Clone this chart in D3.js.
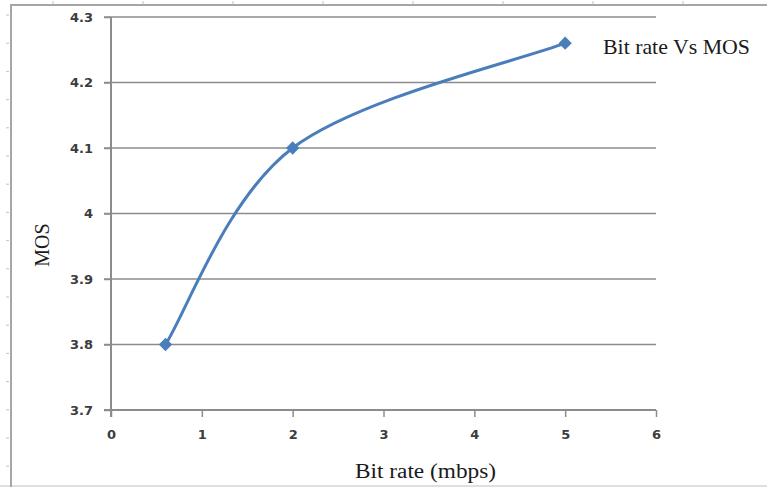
<!DOCTYPE html>
<html>
<head>
<meta charset="utf-8">
<script src="https://cdn.jsdelivr.net/npm/d3@7"></script>
<style>
  html, body { margin: 0; padding: 0; background: #fff; }
  svg { display: block; }
</style>
</head>
<body>
<svg id="chart" width="767" height="487"></svg>
<script>
'use strict';

// chart values
var bitRates = [0.6, 2, 5],
    mosValues = [3.8, 4.1, 4.26],
    xTicks = [0, 1, 2, 3, 4, 5, 6],
    yTicks = [3.7, 3.8, 3.9, 4.0, 4.1, 4.2, 4.3],
    seriesName = 'Bit rate Vs MOS',
    xTitle = 'Bit rate (mbps)',
    yTitle = 'MOS';

var W = 767, H = 487,
    plot = {left: 111, right: 656, top: 17, bottom: 410},
    lineColor = '#4a7ebb',
    axisColor = '#8c8c8c';

var svg = d3.select('#chart');

var x = d3.scaleLinear().domain([0, 6]).range([plot.left, plot.right]),
    y = d3.scaleLinear().domain([3.7, 4.3]).range([plot.bottom, plot.top]);

// Excel-style smoothed line: bezier segments, 1/6 tangents,
// end points use themselves as the phantom neighbour
function smoothPath(p) {
    var ctx = d3.path(), n = p.length;
    ctx.moveTo(p[0][0], p[0][1]);
    for(var i = 0; i < n - 1; i++) {
        var a = p[Math.max(i - 1, 0)],
            b = p[i],
            c = p[i + 1],
            d = p[Math.min(i + 2, n - 1)];
        ctx.bezierCurveTo(
            b[0] + (c[0] - a[0]) / 6, b[1] + (c[1] - a[1]) / 6,
            c[0] - (d[0] - b[0]) / 6, c[1] - (d[1] - b[1]) / 6,
            c[0], c[1]);
    }
    return ctx.toString();
}

// page frame (ruler-like border around the pasted chart)
var frame = svg.append('g').attr('class', 'frame');
frame.append('line')
    .attr('x1', 0).attr('x2', W).attr('y1', 486).attr('y2', 486)
    .attr('stroke', '#d4d4d4').attr('stroke-width', 1.5);
frame.append('line')
    .attr('x1', 11).attr('x2', W).attr('y1', 5).attr('y2', 5)
    .attr('stroke', '#a6a6a6').attr('stroke-width', 2);
frame.append('line')
    .attr('x1', 11).attr('x2', 11).attr('y1', 4).attr('y2', H)
    .attr('stroke', '#a6a6a6').attr('stroke-width', 2);
frame.selectAll('line.rt')
    .data(d3.range(53, W, 90))
    .enter().append('line')
        .attr('class', 'rt')
        .attr('x1', function(d) { return d; }).attr('x2', function(d) { return d; })
        .attr('y1', 1).attr('y2', 4)
        .attr('stroke', '#b8c4d6').attr('stroke-width', 1);
frame.selectAll('line.lt')
    .data(d3.range(15, H, 28.2))
    .enter().append('line')
        .attr('class', 'lt')
        .attr('x1', 6).attr('x2', 9)
        .attr('y1', function(d) { return d; }).attr('y2', function(d) { return d; })
        .attr('stroke', '#b8c4d6').attr('stroke-width', 1);

// horizontal gridlines
svg.append('g').attr('class', 'grid')
    .selectAll('line')
    .data(yTicks.slice(1))
    .enter().append('line')
        .attr('x1', plot.left - 7).attr('x2', plot.right)
        .attr('y1', function(d) { return y(d); })
        .attr('y2', function(d) { return y(d); })
        .attr('stroke', axisColor).attr('stroke-width', 1.5);

// y axis
var yAxis = svg.append('g')
    .attr('class', 'y axis')
    .attr('transform', 'translate(' + plot.left + ',0)')
    .call(d3.axisLeft(y).tickValues(yTicks).tickSize(7).tickPadding(11)
        .tickFormat(function(d) { return d3.format('.1f')(d).replace(/\.0$/, ''); }));

// x axis
var xAxis = svg.append('g')
    .attr('class', 'x axis')
    .attr('transform', 'translate(0,' + plot.bottom + ')')
    .call(d3.axisBottom(x).tickValues(xTicks).tickSize(7).tickPadding(13)
        .tickFormat(d3.format('d')));

[xAxis, yAxis].forEach(function(ax) {
    ax.select('.domain').remove();
    ax.selectAll('.tick line')
        .attr('stroke', axisColor).attr('stroke-width', 1.5);
    ax.selectAll('.tick text')
        .attr('fill', '#3c3c3c')
        .style('font-family', '"DejaVu Sans", sans-serif')
        .style('font-size', '13px')
        .style('font-weight', 'bold');
});

// axis lines
svg.append('line')
    .attr('x1', plot.left).attr('x2', plot.left)
    .attr('y1', plot.top).attr('y2', plot.bottom + 7)
    .attr('stroke', axisColor).attr('stroke-width', 2);
svg.append('line')
    .attr('x1', plot.left - 7).attr('x2', plot.right)
    .attr('y1', plot.bottom).attr('y2', plot.bottom)
    .attr('stroke', axisColor).attr('stroke-width', 2);

// series: smoothed line plus diamond markers
var pts = bitRates.map(function(b, i) { return [x(b), y(mosValues[i])]; });

svg.append('path')
    .attr('class', 'js-line')
    .attr('d', smoothPath(pts))
    .attr('fill', 'none')
    .attr('stroke', lineColor)
    .attr('stroke-width', 3);

svg.append('g').attr('class', 'points')
    .selectAll('path.point')
    .data(pts)
    .enter().append('path')
        .attr('class', 'point')
        .attr('d', d3.symbol().type(d3.symbolSquare).size(88))
        .attr('transform', function(d) {
            return 'translate(' + d[0] + ',' + d[1] + ') rotate(45)';
        })
        .attr('fill', lineColor);

// titles and series label
var serif = '"Liberation Serif", "Times New Roman", serif';

svg.append('text')
    .attr('x', 603).attr('y', 54)
    .attr('textLength', 147).attr('lengthAdjust', 'spacingAndGlyphs')
    .style('font-family', serif).style('font-size', '21px')
    .attr('fill', '#1a1a1a')
    .text(seriesName);

svg.append('text')
    .attr('x', 355).attr('y', 478)
    .attr('textLength', 141).attr('lengthAdjust', 'spacingAndGlyphs')
    .style('font-family', serif).style('font-size', '20px')
    .attr('fill', '#1a1a1a')
    .text(xTitle);

svg.append('text')
    .attr('transform', 'translate(49,245) rotate(-90)')
    .attr('text-anchor', 'middle')
    .style('font-family', serif).style('font-size', '20px')
    .attr('fill', '#1a1a1a')
    .text(yTitle);
</script>
</body>
</html>
